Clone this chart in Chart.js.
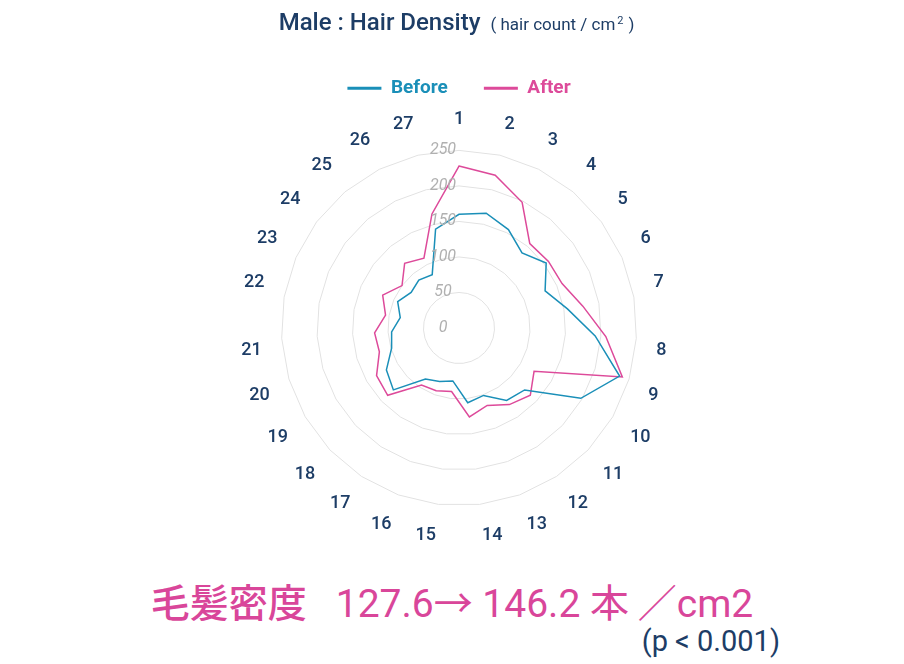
<!DOCTYPE html>
<html><head><meta charset="utf-8">
<script src="https://cdn.jsdelivr.net/npm/chart.js@4/dist/chart.umd.min.js"></script>
<style>
body{margin:0;width:904px;height:664px;background:#fff;font-family:Roboto,"Noto Sans CJK JP",sans-serif;position:relative;overflow:hidden}
#wrap{position:absolute;left:0;top:0;width:904px;height:548px}
#big{position:absolute;top:572px;left:0;width:904px;text-align:center;color:#d9469a;font-size:39px;font-weight:400;font-family:Roboto,"Noto Sans CJK JP",sans-serif}
#p{position:absolute;top:624px;right:124px;color:#1d3d66;font-size:29px;font-weight:400}
</style></head><body>
<div id="wrap"><canvas id="c"></canvas></div>
<div id="big"><span style="font-family:'Noto Sans CJK JP';font-weight:500">毛髪密度</span>&nbsp;&nbsp;&nbsp;127.6→ 146.2 <span style="font-family:'Noto Sans CJK JP'">本 ／</span>cm2</div>
<div id="p">(p &lt; 0.001)</div>
<script>
const categories = ["1","2","3","4","5","6","7","8","9","10","11","12","13","14","15","16","17","18","19","20","21","22","23","24","25","26","27"];
const before = [160,166,155,138,153,132,155,192,236,198,127,122,101,106,75,80,86,127,118,99,95,84,94,84,88,84,143];
const after = [228,221,198,155,157,158,177,207,240,122,138,129,116,126,90,94,96,138,134,117,119,105,117,100,119,110,165];
const ticks = [0,50,100,150,200,250];
new Chart(document.getElementById('c'),{
 type:'radar',
 data:{labels:categories,datasets:[
  {label:'Before',data:before,borderColor:'#1a8fb8',backgroundColor:'#1a8fb8',borderWidth:1.5,pointRadius:0,fill:false},
  {label:'After',data:after,borderColor:'#dd4a9a',backgroundColor:'#dd4a9a',borderWidth:1.5,pointRadius:0,fill:false}
 ]},
 options:{responsive:true,maintainAspectRatio:false,animation:false,
  layout:{padding:{top:4,bottom:0,left:14,right:0}},
  plugins:{
   title:{display:true,text:'Male : Hair Density',color:'#1d3d66',font:{size:24,weight:'500',family:'Roboto'},padding:{top:4,bottom:6}},
   legend:{labels:{boxWidth:34,boxHeight:3,padding:36,font:{size:19,weight:'bold',family:'Roboto'},generateLabels:(ch)=>ch.data.datasets.map((d,i)=>({text:d.label,fillStyle:d.borderColor,strokeStyle:d.borderColor,lineWidth:0,fontColor:d.borderColor,datasetIndex:i}))}}
  },
  scales:{r:{min:0,max:250,afterBuildTicks:(s)=>{s.ticks=ticks.map(v=>({value:v}));},
   grid:{color:'#e2e2e2'},angleLines:{display:false},
   ticks:{display:false},
   pointLabels:{color:'#1d3d66',font:{size:18,weight:'500',family:'Roboto'},padding:20}}}
 },
 plugins:[{id:'sub',afterDraw(ch){const t=ch.titleBlock;const c=ch.ctx;c.save();
 const r=ch.scales.r;c.font='italic 16px Roboto';c.fillStyle='#b0b0b0';c.textAlign='center';c.textBaseline='middle';
 ticks.forEach(v=>{const p=r.getPointPositionForValue(0,v);c.fillText(String(v),r.xCenter-16,p.y);});
 c.font='500 24px Roboto';const w=c.measureText('Male : Hair Density').width;
 c.textBaseline='middle';const y=t.top+t.height/2+1;
 c.font='17px Roboto';const sub='( hair count / cm';const sw=c.measureText(sub).width;const total=w+10+sw+22;const sx=ch.width/2-total/2+6;
 c.fillStyle='#fff';c.fillRect(t.left,t.top,t.width,t.height);
 c.fillStyle='#1d3d66';c.font='500 24px Roboto';c.textAlign='left';c.fillText('Male : Hair Density',sx,y);
 c.font='17px Roboto';c.fillText(sub,sx+w+10,y+1);c.font='11px Roboto';c.fillText('2',sx+w+10+sw+2,y-3);c.font='17px Roboto';c.fillText(' )',sx+w+10+sw+9,y+1);c.restore();}}]
});
</script></body></html>
